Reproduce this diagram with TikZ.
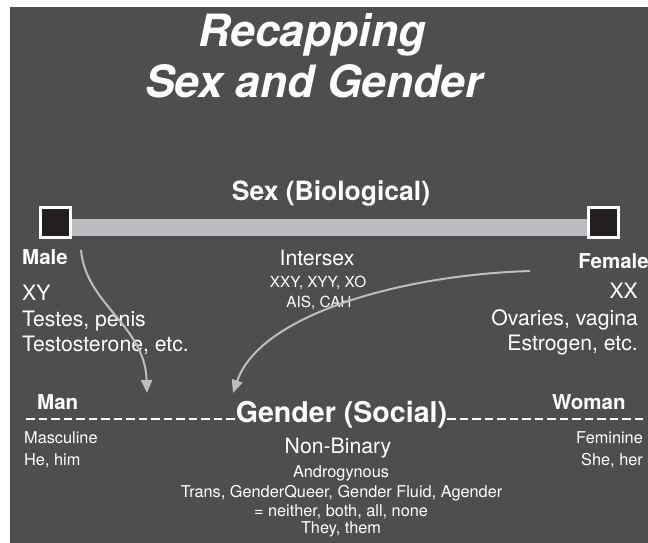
\documentclass[tikz,border=0pt]{standalone}
\usepackage{fontspec}
\setmainfont{TeX Gyre Heros}
\usetikzlibrary{arrows.meta}
\definecolor{bgc}{HTML}{4D4E50}
\definecolor{barc}{HTML}{BCBDC0}
\definecolor{sqc}{HTML}{231F20}
\newcommand\setfs[1]{\fontsize{#1}{#1}\selectfont}
\begin{document}
\begin{tikzpicture}[x=1pt,y=-1pt,
  txt/.style={text=white, inner sep=0pt},
  titletext/.style={txt, font=\setfs{44.5}\bfseries\itshape},
  headtext/.style={txt, font=\setfs{26.5}\bfseries},
  gendtext/.style={txt, font=\setfs{28.6}\bfseries},
  labtext/.style={txt, font=\setfs{20.5}\bfseries},
  bigtext/.style={txt, font=\setfs{21.2}},
  smalltext/.style={txt, font=\setfs{15.3}},
  midtext/.style={txt, font=\setfs{16.3}},
  sqbox/.style={draw=white, line width=3pt, fill=sqc, minimum size=30pt, inner sep=0pt},
  arr/.style={draw=barc, line width=2pt, -{Triangle[length=13pt,width=11pt]}},
  dashline/.style={draw=white, line width=2.4pt, dash pattern=on 8.5pt off 4pt}]
\useasboundingbox (0,0) rectangle (648,543);
\fill[white] (0,0) rectangle (648,543);
\fill[bgc] (10,7) rectangle (648,543);
% title
\node[titletext, anchor=base] (t1) at (312,47) {Recapping};
\node[titletext, anchor=base] (t2) at (314,97) {Sex and Gender};
% sex axis
\node[headtext, anchor=base] (sexh) at (331,200) {Sex (Biological)};
\fill[barc] (71,219) rectangle (588,236);
\node[sqbox] (sqL) at (55,222) {};
\node[sqbox] (sqR) at (603,222) {};
% left
\node[labtext, anchor=base west] (male) at (22,264) {Male};
\node[bigtext, anchor=base west] (xy) at (22,300) {XY};
\node[bigtext, anchor=base west] (testes) at (22,326) {Testes, penis};
\node[bigtext, anchor=base west] (testo) at (22,351) {Testosterone, etc.};
% right
\node[labtext, anchor=base east] (female) at (649,268) {Female};
\node[bigtext, anchor=base east] (xx) at (638,298) {XX};
\node[bigtext, anchor=base east] (ovar) at (638,325) {Ovaries, vagina};
\node[bigtext, anchor=base east] (estr) at (638,350) {Estrogen, etc.};
% middle
\node[bigtext, anchor=base] (inter) at (317,265) {Intersex};
\node[smalltext, anchor=base] (xxy) at (318,287) {XXY, XYY, XO};
\node[smalltext, anchor=base] (ais) at (319,307) {AIS, CAH};
% arrows
\coordinate (a1s) at (81,250);
\coordinate (a1e) at (147,393);
\coordinate (a2s) at (530,271);
\coordinate (a2e) at (233,393);
\draw[arr] (a1s) .. controls (86,305) and (145,325) .. (a1e);
\draw[arr] (a2s) .. controls (400,275) and (260,315) .. (a2e);
% gender axis
\node[gendtext, anchor=base] (gend) at (341.5,422) {Gender (Social)};
\coordinate (dl) at (26,419);
\coordinate (dr) at (646,419);
\draw[dashline] (dl) -- (dl -| gend.west);
\draw[dashline] (dr -| gend.east) -- (dr);
\node[labtext, anchor=base west] (man) at (37,409) {Man};
\node[labtext, anchor=base west] (woman) at (552,409) {Woman};
\node[midtext, anchor=base west] (masc) at (24,443) {Masculine};
\node[midtext, anchor=base west] (he) at (24,465) {He, him};
\node[midtext, anchor=base east] (fem) at (643,443) {Feminine};
\node[midtext, anchor=base east] (she) at (643,465) {She, her};
\node[bigtext, anchor=base] (nb) at (338,453) {Non-Binary};
\node[midtext, anchor=base] (andro) at (341,477) {Androgynous};
\node[midtext, anchor=base] (trans) at (341.5,497) {Trans, GenderQueer, Gender Fluid, Agender};
\node[midtext, anchor=base] (neither) at (341,516) {= neither, both, all, none};
\node[midtext, anchor=base] (they) at (341,533) {They, them};
\end{tikzpicture}
\end{document}
